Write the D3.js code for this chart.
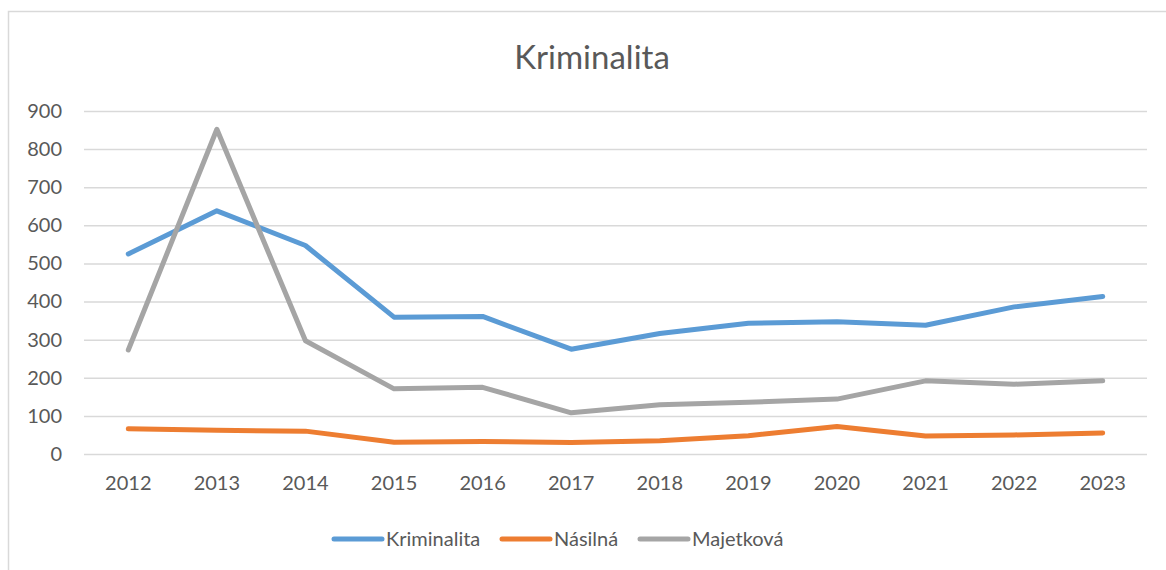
<!DOCTYPE html>
<html>
<head>
<meta charset="utf-8">
<style>
  body { margin: 0; background: #fff; }
  text { font-family: Lato, "Open Sans", sans-serif; fill: #595959; }
</style>
<script src="https://cdn.jsdelivr.net/npm/d3@7"></script>
</head>
<body>
<div id="chart"></div>
<script>
const years = ['2012','2013','2014','2015','2016','2017','2018','2019','2020','2021','2022','2023'];
const kriminalita = [525, 638, 547, 359, 361, 275, 316, 343, 347, 338, 386, 413];
const nasilna = [66, 62, 60, 31, 33, 30, 35, 48, 72, 47, 50, 55];
const majetkova = [273, 852, 297, 171, 175, 108, 129, 136, 144, 192, 183, 192];
const seriesNames = ['Kriminalita', 'Násilná', 'Majetková'];
const colors = ['#5B9BD5', '#ED7D31', '#A5A5A5'];
const yTicks = [0, 100, 200, 300, 400, 500, 600, 700, 800, 900];

const [W, H] = [1166, 570];
const svg = d3.select('#chart').append('svg').attr('width', W).attr('height', H);

// chart frame, cut off on the right and bottom like the screenshot
svg.append('rect')
  .attr('x', 8.5).attr('y', 11.5).attr('width', 1180).attr('height', 600)
  .attr('fill', '#fff').attr('stroke', '#D9D9D9').attr('stroke-width', 1.5);

svg.append('text')
  .attr('x', 592).attr('y', 69)
  .attr('text-anchor', 'middle')
  .attr('font-size', 33)
  .text('Kriminalita');

const x = d3.scaleBand().domain(years).range([84, 1147]);
const y = d3.scaleLinear().domain([0, 900]).range([454, 111]);

// gridlines + y labels
const yAxis = d3.axisLeft(y).tickValues(yTicks).tickSize(-(1147 - 84)).tickPadding(22);
const gy = svg.append('g').attr('transform', 'translate(84,0)').call(yAxis);
gy.select('.domain').remove();
gy.selectAll('.tick line').attr('stroke', '#D9D9D9').attr('stroke-width', 1.5);
gy.selectAll('.tick text').attr('font-size', 20).attr('fill', '#595959')
  .attr('font-family', 'Lato, sans-serif');

const xAxis = d3.axisBottom(x).tickSize(0).tickPadding(22);
const gx = svg.append('g').attr('transform', 'translate(0,454)').call(xAxis);
gx.select('.domain').remove();
gx.selectAll('.tick text').attr('font-size', 20).attr('fill', '#595959')
  .attr('font-family', 'Lato, sans-serif');

const data = [kriminalita, nasilna, majetkova];
const line = d3.line()
  .x((d, i) => x(years[i]) + x.bandwidth() / 2)
  .y(d => y(d));

data.forEach((vals, k) => {
  svg.append('path')
    .datum(vals)
    .attr('d', line)
    .attr('fill', 'none')
    .attr('stroke', colors[k])
    .attr('stroke-width', 5)
    .attr('stroke-linecap', 'round')
    .attr('stroke-linejoin', 'round');
});

// legend
const legendX = [334, 502, 640];
const legend = svg.append('g');
seriesNames.forEach((name, k) => {
  legend.append('line')
    .attr('x1', legendX[k]).attr('x2', legendX[k] + 48)
    .attr('y1', 539).attr('y2', 539)
    .attr('stroke', colors[k]).attr('stroke-width', 5)
    .attr('stroke-linecap', 'round');
  legend.append('text')
    .attr('x', legendX[k] + 52).attr('y', 546)
    .attr('font-size', 20)
    .text(name);
});
</script>
</body>
</html>
